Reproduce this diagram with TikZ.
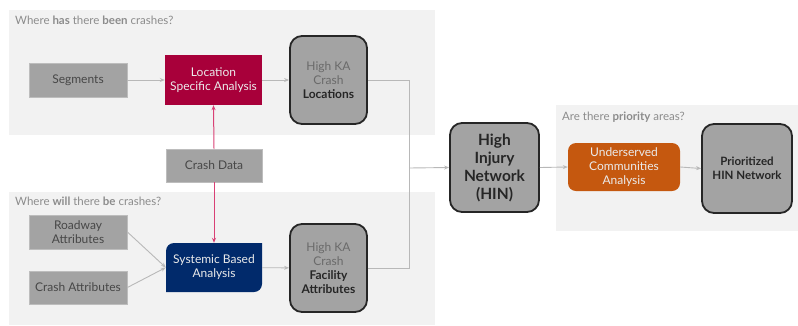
\documentclass[tikz,border=0pt]{standalone}
\usepackage{fontspec}
\setmainfont{Lato}
\usetikzlibrary{arrows.meta}
\definecolor{panelbg}{HTML}{F2F2F2}
\definecolor{boxgray}{HTML}{A3A3A3}
\definecolor{boxedge}{HTML}{BDBDBD}
\definecolor{txtgray}{HTML}{474747}
\definecolor{lightertxt}{HTML}{6A6A6A}
\definecolor{labelgray}{HTML}{8C8C8C}
\definecolor{crimson}{HTML}{A8003A}
\definecolor{navyblue}{HTML}{012A6B}
\definecolor{burnt}{HTML}{C5580F}
\definecolor{linkgray}{HTML}{B8B8B8}
\definecolor{pinkline}{HTML}{D94075}
\begin{document}
\begin{tikzpicture}[x=1pt,y=-1pt,
  inbox/.style={draw=boxedge,line width=0.8pt,fill=boxgray,text=txtgray,align=center,
    inner sep=2pt,font=\fontsize{12}{14}\selectfont},
  procbox/.style={fill=#1,text=white!92!black,align=center,inner sep=2pt,
    font=\fontsize{12}{14}\selectfont},
  outbox/.style={draw=black!85,line width=1.8pt,fill=boxgray,rounded corners=12pt,
    text=lightertxt,align=center,inner sep=2pt,font=\fontsize{12}{14}\selectfont},
  panel/.style={fill=panelbg,draw=none},
  plabel/.style={anchor=west,text=labelgray,inner sep=0pt,font=\fontsize{11.5}{13}\selectfont},
  link/.style={draw=linkgray,line width=0.9pt},
  arr/.style={link,-{Stealth[length=5pt,width=4pt]}},
  parr/.style={draw=pinkline,line width=1pt,-{Stealth[length=5pt,width=4pt]}}
]
\useasboundingbox (0,0) rectangle (798,325);
% panels
\fill[panel] (9,10) rectangle (435,135);
\fill[panel] (9,192) rectangle (435,325);
\fill[panel] (556,105) rectangle (798,231);
\node[plabel] (lab1) at (15,20) {Where \textbf{has} there \textbf{been} crashes?};
\node[plabel] (lab2) at (15,201) {Where \textbf{will} there \textbf{be} crashes?};
\node[plabel] (lab3) at (562,117) {Are there \textbf{priority} areas?};
% inputs
\node[inbox,minimum width=98pt,minimum height=34pt] (seg) at (78,80) {Segments};
\node[inbox,minimum width=96pt,minimum height=33pt] (cdata) at (214,165.5) {Crash Data};
\node[inbox,minimum width=98pt,minimum height=34pt] (road) at (78,232) {Roadway\\Attributes};
\node[inbox,minimum width=98pt,minimum height=33pt] (cattr) at (78,287.5) {Crash Attributes};
% processes
\node[procbox=crimson,minimum width=97pt,minimum height=50pt] (loc) at (213.5,80) {Location\\Specific Analysis};
\coordinate (sysC) at (214,267.5);
\fill[navyblue] (166,292) -- (166,251) arc[start angle=180,end angle=270,radius=8] -- (262,243) -- (262,284) arc[start angle=0,end angle=90,radius=8] -- cycle;
\node[procbox=none,minimum width=96pt,minimum height=49pt] (sys) at (sysC) {Systemic Based\\Analysis};
\node[procbox=burnt,rounded corners=8pt,minimum width=112pt,minimum height=48pt] (und) at (624,167) {Underserved\\Communities\\Analysis};
% outputs
\node[outbox,minimum width=77pt,minimum height=88pt] (hloc) at (328.5,80) {High KA\\Crash\\{\color{black!85}\bfseries Locations}};
\node[outbox,minimum width=77pt,minimum height=88pt] (hfac) at (328.5,268) {High KA\\Crash\\{\color{black!85}\bfseries Facility}\\{\color{black!85}\bfseries Attributes}};
\node[outbox,text=black!85,font=\fontsize{15.5}{18}\selectfont\bfseries,minimum width=89pt,minimum height=89pt] (hin) at (494.5,167.5) {High\\Injury\\Network\\(HIN)};
\node[outbox,text=black!85,font=\fontsize{11.5}{13.5}\selectfont\bfseries,minimum width=90pt,minimum height=89pt] (pri) at (747,168.5) {Prioritized\\HIN Network};
% connectors
\coordinate (merge) at (409,168);
\draw[arr] (seg) -- (loc);
\draw[arr] (loc) -- (hloc);
\draw[arr] (sys) -- (hfac);
\draw[arr] (road.east) -- (sys.west);
\draw[arr] (cattr.east) -- (sys.west);
\draw[parr] (cdata.north) -- (loc.south);
\draw[parr] (cdata.south) -- (sys.north);
\draw[link] (hloc.east) -- (hloc.east -| merge) -- (merge);
\draw[link] (hfac.east) -- (hfac.east -| merge) -- (merge);
\draw[arr] (merge) -- (hin.west);
\draw[arr] (hin.east) -- (und.west);
\draw[arr] (und.east) -- (pri.west);
\end{tikzpicture}
\end{document}
